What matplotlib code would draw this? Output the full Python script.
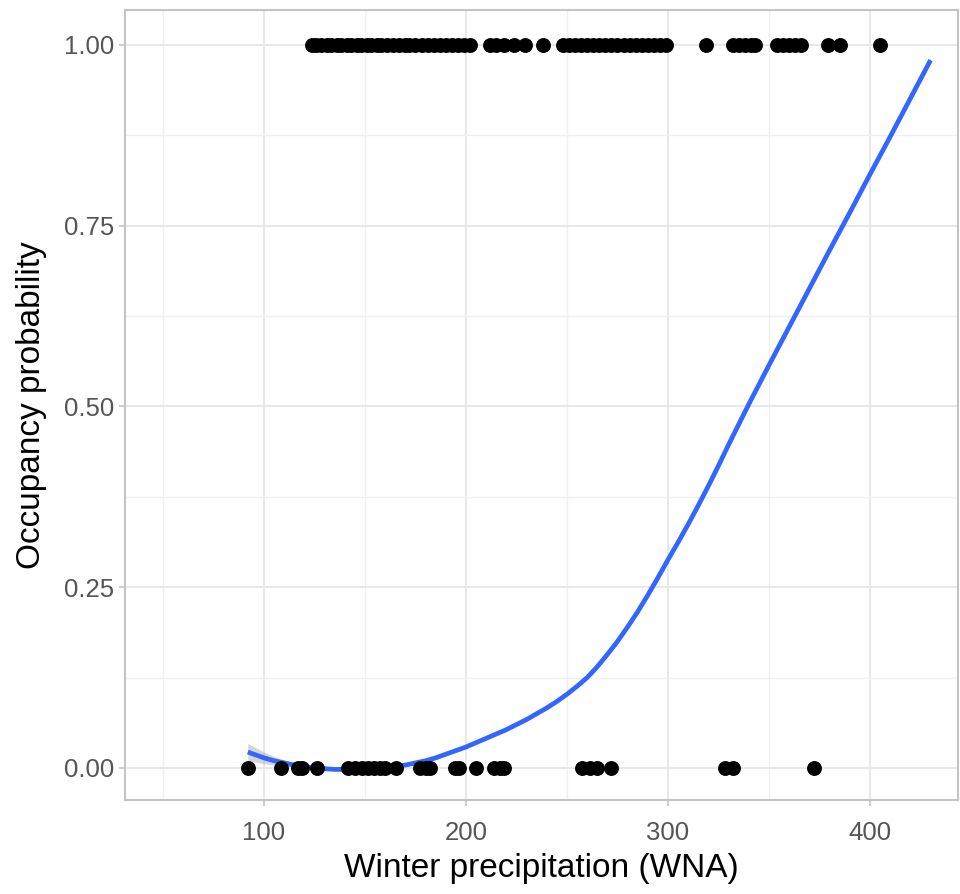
import matplotlib
matplotlib.use("Agg")
import matplotlib.pyplot as plt
import numpy as np

# Observed presences (y = 1) and absences (y = 0)
x_present = [124, 126, 128, 131, 133, 136, 138, 141, 143, 146, 148, 151, 153, 156, 158,
             161, 164, 167, 170, 172, 175, 178, 181, 184, 187, 190, 193, 196, 199, 202,
             212, 215, 219, 224, 229, 238,
             248, 251, 254, 257, 260, 263, 266, 269, 272, 275, 278, 281, 284, 287, 290,
             293, 296, 299,
             319, 332, 335, 338, 341, 343, 354, 357, 360, 363, 366, 379, 385, 405]
x_absent = [92.1, 108.4, 116.8, 118.8, 126.2, 141.6, 145.0, 148.5, 151.5, 154.5, 157.4,
            159.9, 165.3, 177.2, 180.2, 182.2, 194.6, 196.5, 205.0, 213.9, 216.8, 218.8,
            257.4, 261.4, 264.9, 271.8, 328.2, 332.2, 372.3]

# Smooth fit
fit_x = [92, 96, 100, 105, 110, 115, 120, 125, 130, 135, 140, 145, 150, 155, 160, 165,
         170, 175, 180, 185, 190, 195, 200, 205, 210, 215, 220, 225, 230, 235, 240, 245,
         250, 255, 260, 265, 270, 275, 280, 285, 290, 295, 300, 305, 310, 315, 320, 325,
         330, 335, 340, 350, 360, 370, 380, 390, 400, 410, 420, 430]
fit_y = [0.022, 0.018, 0.014, 0.010, 0.007, 0.004, 0.002, 0.000, -0.001, -0.002, -0.002,
         -0.002, -0.002, -0.001, 0.000, 0.002, 0.004, 0.007, 0.010, 0.014, 0.019, 0.024,
         0.029, 0.035, 0.041, 0.047, 0.053, 0.060, 0.067, 0.075, 0.083, 0.092, 0.102,
         0.113, 0.125, 0.140, 0.157, 0.175, 0.195, 0.216, 0.239, 0.263, 0.288, 0.312,
         0.337, 0.363, 0.390, 0.418, 0.447, 0.475, 0.503, 0.557, 0.610, 0.663, 0.716,
         0.768, 0.821, 0.873, 0.926, 0.979]
fit_se = [0.012, 0.010, 0.008, 0.006, 0.004, 0.003, 0.003, 0.002, 0.002, 0.002, 0.002,
          0.002, 0.002, 0.002, 0.002, 0.002, 0.002, 0.002, 0.002, 0.002, 0.002, 0.002,
          0.002, 0.002, 0.002, 0.002, 0.002, 0.002, 0.002, 0.002, 0.002, 0.002, 0.002,
          0.002, 0.002, 0.002, 0.002, 0.002, 0.002, 0.002, 0.002, 0.002, 0.002, 0.002,
          0.002, 0.002, 0.002, 0.002, 0.002, 0.002, 0.002, 0.002, 0.002, 0.002, 0.002,
          0.002, 0.002, 0.002, 0.003, 0.004]

x_ticks = [100, 200, 300, 400]
y_ticks = [0.00, 0.25, 0.50, 0.75, 1.00]
y_ticklabels = ["0.00", "0.25", "0.50", "0.75", "1.00"]

plt.rcParams['font.family'] = ['Liberation Sans', 'DejaVu Sans']

fig = plt.figure(figsize=(9.6, 8.94), dpi=100)
ax = fig.add_axes([125 / 960, 1 - 800 / 894, (958 - 125) / 960, (800 - 10) / 894])

fx = np.array(fit_x)
fy = np.array(fit_y)
fs = np.array(fit_se)
ax.fill_between(fx, fy - fs, fy + fs, color="#999999", alpha=0.4, linewidth=0, zorder=2)
ax.plot(fx, fy, color="#3366FF", linewidth=3.4, zorder=3, solid_capstyle="butt",
        solid_joinstyle="round")

ax.scatter(x_present, np.ones(len(x_present)), s=115, color="black", linewidths=0, zorder=4)
ax.scatter(x_absent, np.zeros(len(x_absent)), s=115, color="black", linewidths=0, zorder=4)

ax.set_xlim(31.2, 443.6)
ax.set_ylim(-0.0443, 1.0484)

ax.set_xticks(x_ticks)
ax.set_xticklabels([str(t) for t in x_ticks])
ax.set_xticks([50, 150, 250, 350], minor=True)
ax.set_yticks(y_ticks)
ax.set_yticklabels(y_ticklabels)
ax.set_yticks([0.125, 0.375, 0.625, 0.875], minor=True)

ax.grid(which="major", color="#E6E6E6", linewidth=1.3, zorder=0)
ax.grid(which="minor", color="#F0F0F0", linewidth=1.0, zorder=0)
ax.set_axisbelow(True)

for s in ax.spines.values():
    s.set_color("#C4C4C4")
    s.set_linewidth(1.5)

ax.tick_params(which="major", length=4, width=1.2, color="#C4C4C4",
               labelsize=18.5, labelcolor="#555555", pad=4)
ax.tick_params(axis="x", which="major", pad=11)
ax.tick_params(which="minor", length=0)

ax.set_xlabel("Winter precipitation (WNA)", fontsize=24, color="black", labelpad=6)
ax.set_ylabel("Occupancy probability", fontsize=24, color="black", labelpad=12)

fig.savefig("out.png", dpi=100)
